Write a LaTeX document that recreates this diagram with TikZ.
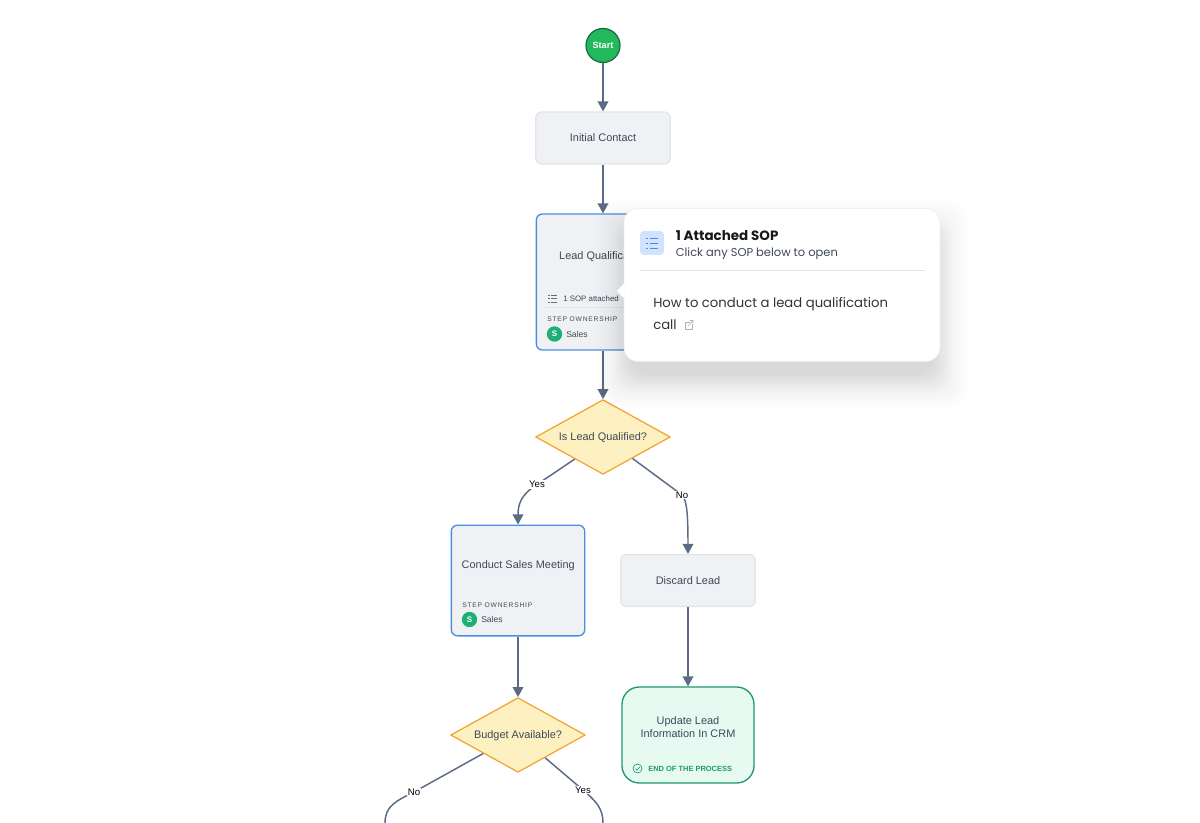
\documentclass[tikz,border=0pt]{standalone}
\usepackage{fontspec}
\setmainfont{Liberation Sans}
\newfontfamily\popfont{Poppins}
\newfontfamily\capsfont[LetterSpace=12]{Liberation Sans}
\usetikzlibrary{arrows.meta,calc,shapes.geometric}
\definecolor{flowc}{HTML}{5B6B86}
\definecolor{inkc}{HTML}{3F4856}
\definecolor{greyc}{HTML}{F0F1F4}
\definecolor{greyl}{HTML}{E2E4EA}
\definecolor{bluel}{HTML}{4A90E2}
\definecolor{amberl}{HTML}{F5A02C}
\definecolor{amberf}{HTML}{FDF1C2}
\definecolor{mintf}{HTML}{E7FAF2}
\definecolor{mintl}{HTML}{1E9A6E}
\definecolor{startf}{HTML}{22B85C}
\definecolor{startl}{HTML}{166B3C}
\definecolor{ownerc}{HTML}{1DAF76}
\tikzset{
  flow/.style={draw=flowc,line width=1.1pt,-{Triangle[width=8pt,length=7.5pt]}},
  flowfree/.style={draw=flowc,line width=1.1pt},
  txt/.style={inner sep=0pt,text=inkc,font=\fontsize{8.2}{9.8}\selectfont,align=center},
  tiny/.style={inner sep=0pt,text=inkc,font=\fontsize{5.6}{7}\selectfont},
  lbl/.style={inner sep=0.6pt,fill=white,text=black,font=\fontsize{7.2}{8}\selectfont},
  plain/.style={draw=greyl,line width=0.9pt,fill=greyc,rounded corners=4.5pt,minimum width=101pt,inner sep=0pt,text=inkc,text height=6.8pt,text depth=1pt,font=\fontsize{8.2}{10.2}\selectfont},
  owned/.style={draw=bluel,line width=1pt,fill=greyc,rounded corners=4.5pt,minimum width=100pt,inner sep=0pt},
  choice/.style={diamond,aspect=1.8,draw=amberl,line width=0.9pt,fill=amberf,minimum width=101pt,minimum height=56pt,inner sep=0pt,text=inkc,text height=6.8pt,text depth=1pt,font=\fontsize{8.2}{10.2}\selectfont},
}
\begin{document}
\begin{tikzpicture}[x=0.75pt,y=-0.75pt]
\useasboundingbox(0,0)rectangle(1200,823);
% flow nodes
\node[circle,draw=startl,line width=0.9pt,fill=startf,minimum size=25.5pt,inner sep=0pt,text=white,font=\bfseries\fontsize{6.8}{8}\selectfont](start)at(603,45.5){Start};
\node[plain,minimum height=39pt](initial)at(603,138){Initial Contact};
\node[owned,minimum height=102pt](lead)at(603,282){};
\node[choice](qualified)at(603,437){Is Lead Qualified?};
\node[owned,minimum height=83pt](meeting)at(518,580.5){};
\node[plain,minimum height=39pt](discard)at(688,580.5){Discard Lead};
\node[choice](budget)at(518,735){Budget Available?};
\node[draw=mintl,line width=1pt,fill=mintf,rounded corners=13pt,minimum width=99pt,minimum height=72pt,inner sep=0pt](update)at(688,735){};
% free ends and label places
\coordinate(noA)at(414,792);
\coordinate(yesA)at(583,790);
\coordinate(endA)at(385,823);
\coordinate(endB)at(603,823);
\coordinate(yesB)at(537,484.5);
\coordinate(noB)at(682,495);
% connectors
\foreach \x/\y in {start/initial,initial/lead,lead/qualified,meeting/budget,discard/update}
{\draw[flow](\x)--(\y);}
\draw[flow](qualified.218)--(yesB)..controls(522,494)and(518,503)..(meeting);
\draw[flow](qualified.324)--(noB)..controls(686,500)and(688,507)..(discard);
\draw[flowfree](budget.208)--(noA)..controls(396,801)and(385,806)..(endA);
\draw[flowfree](budget.320)--(yesA)..controls(597,802)and(603,809)..(endB);
\foreach \x/\y/\t in {yesB/yesL/Yes,noB/noL/No,noA/noM/No,yesA/yesM/Yes}
{\node[lbl](\y)at(\x){\t};}
% texts in the steps
\node[txt](leadT)at(603,256.5){Lead Qualification};
\node[txt](meetT)at(518.25,565.5){Conduct Sales Meeting};
\node[txt](updateT)at(688,727){Update Lead\\Information In CRM};
\foreach \n/\x/\y in {lead/547/319.5,meet/462/605}
{
\node[tiny,anchor=west,font=\capsfont\fontsize{5}{6}\selectfont](\n Own)at(\x,\y){STEP OWNERSHIP};
\node[circle,fill=ownerc,minimum size=11.5pt,inner sep=0pt,text=white,font=\bfseries\fontsize{6}{7}\selectfont](\n Dot)at(\x+7.5,\y+14.5){S};
\node[tiny,anchor=west,font=\fontsize{6.4}{8}\selectfont](\n Team)at(\x+19,\y+14.5){Sales};
}
\draw[greyl,line width=0.6pt](546,307)--(640,307);
\node[tiny,anchor=west,font=\fontsize{5.9}{7}\selectfont](leadSop)at(563,298.5){1 SOP attached};
\foreach \y in {295,298.5,302}
{\draw[inkc!80,line width=0.45pt](551,\y)--(557,\y);
 \draw[inkc!80,line width=0.45pt](548,\y)--(549.5,\y);}
% end of process mark
\draw[mintl,line width=0.5pt](637.5,768.5)circle(4.5);
\draw[mintl,line width=0.5pt](635.5,768.7)--(637,770.2)--(639.8,767);
\node[tiny,anchor=west,text=mintl,font=\bfseries\fontsize{5.6}{7}\selectfont](updateE)at(648,768.5){END OF THE PROCESS};
% popup with soft shadow
\foreach \i in {1,...,24}
{\pgfmathsetmacro\op{0.0025+0.0003*\i}
\fill[black,opacity=\op,rounded corners=14pt]($(624,229)+(-30+1.5*\i,-30+1.5*\i)$)rectangle($(940,381)+(30-1.5*\i,30-1.5*\i)$);}
\node[draw=greyl!70,line width=0.5pt,fill=white,rounded corners=10pt,minimum width=237pt,minimum height=114.5pt,inner sep=0pt](popup)at(782,285){};
\fill[white](624.5,283)--(617,291)--(624.5,299)--cycle;
\fill[blue!60!cyan!18,rounded corners=3pt](640,231)rectangle(664,255);
\foreach \y in {238,243,248}
{\draw[bluel,line width=0.6pt](650,\y)--(658,\y);
 \draw[bluel,line width=0.6pt](646,\y)--(648,\y);}
\node[anchor=west,inner sep=0pt,text=black!90,font=\popfont\fontsize{10.1}{13}\selectfont\bfseries](popupT)at(675.5,235.5){1 Attached SOP};
\node[anchor=west,inner sep=0pt,text=inkc,font=\popfont\fontsize{8.6}{11}\selectfont](popupS)at(675.5,253.5){Click any SOP below to open};
\draw[greyl,line width=0.7pt](640,270.5)--(925,270.5);
\node[anchor=west,inner sep=0pt,text=black!80,font=\popfont\fontsize{9.9}{13}\selectfont](popupL)at(653,304){How to conduct a lead qualification};
\node[anchor=west,inner sep=0pt,text=black!80,font=\popfont\fontsize{9.9}{13}\selectfont](popupC)at(653,325){call};
\draw[black!30,line width=0.5pt](690,322)--(685,322)--(685,329)--(692,329)--(692,324);
\draw[black!30,line width=0.5pt](688,326)--(693,321)(690,320.5)--(693,320.5)--(693,323.5);
\end{tikzpicture}
\end{document}
